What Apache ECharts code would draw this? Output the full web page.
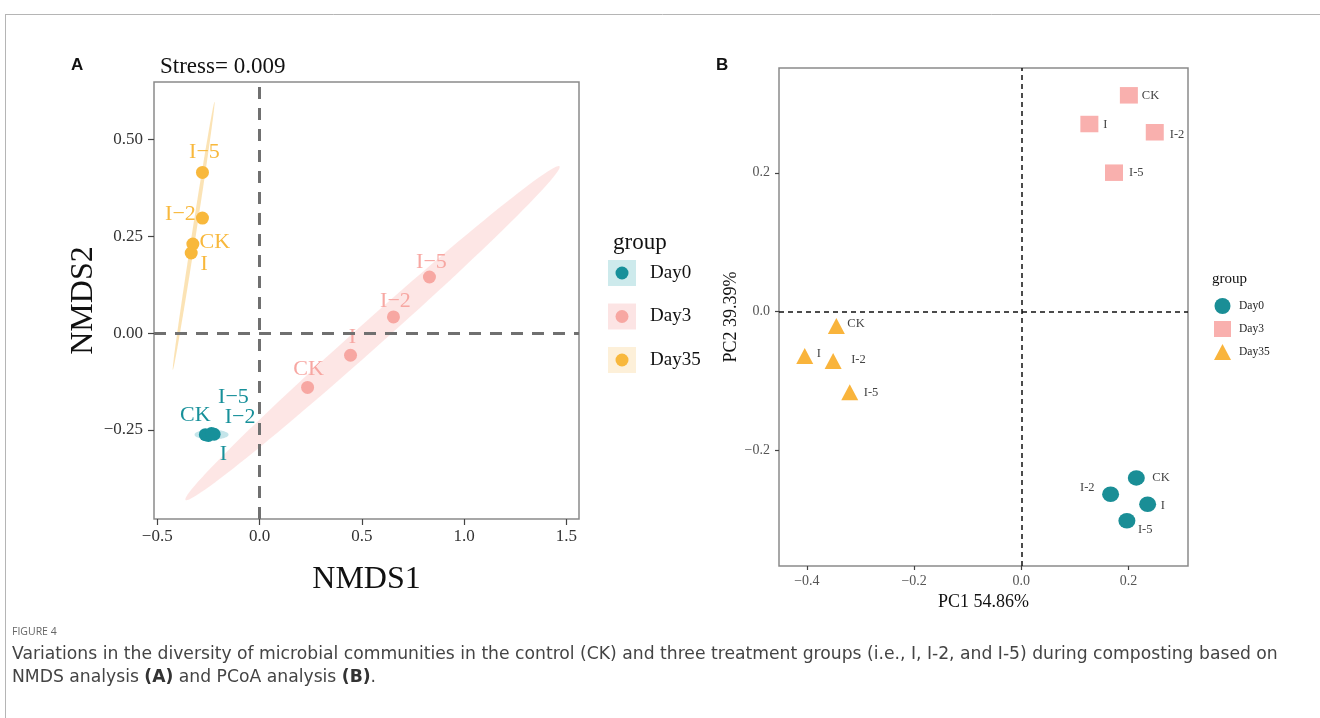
<!DOCTYPE html>
<html>
<head>
<meta charset="utf-8">
<style>
html,body{margin:0;padding:0;background:#fff;}
#chart{width:1320px;height:718px;}
</style>
<script src="https://cdn.jsdelivr.net/npm/echarts@6/dist/echarts.min.js"></script>
</head>
<body>
<div id="chart"></div>
<script>
// ---------- DATA ----------
const groups = ['Day0', 'Day3', 'Day35'];
const sampleLabels = ['CK', 'I', 'I-2', 'I-5'];

// Panel A: NMDS scores (order CK, I, I-2, I-5)
const nmds1Day0  = [-0.265, -0.250, -0.222, -0.235];
const nmds2Day0  = [-0.262, -0.264, -0.261, -0.259];
const nmds1Day3  = [0.235, 0.445, 0.655, 0.831];
const nmds2Day3  = [-0.140, -0.057, 0.042, 0.145];
const nmds1Day35 = [-0.326, -0.334, -0.279, -0.279];
const nmds2Day35 = [0.230, 0.207, 0.297, 0.415];

// Panel A: group ellipses [centerX, centerY, majorDX, majorDY, minorDX, minorDY]
const ellipseDay0  = [-0.2346, -0.262, 0.083, 0.0, 0.0, 0.0129];
const ellipseDay3  = [0.5526, 0.0, 0.9145, 0.4307, 0.0423, -0.0250];
const ellipseDay35 = [-0.322, 0.251, 0.102, 0.346, 0.0097, -0.0008];

const stressValue = '0.009';

// Panel B: PCoA scores (order CK, I, I-2, I-5)
const pc1Day0  = [0.2146, 0.2357, 0.1666, 0.1970];
const pc2Day0  = [-0.2400, -0.2780, -0.2637, -0.3017];
const pc1Day3  = [0.2007, 0.1270, 0.2490, 0.1730];
const pc2Day3  = [0.3118, 0.2704, 0.2585, 0.2002];
const pc1Day35 = [-0.345, -0.404, -0.351, -0.320];
const pc2Day35 = [-0.0209, -0.0642, -0.0714, -0.1165];
const pc1Percent = '54.86%';
const pc2Percent = '39.39%';

// Tick values
const nmds1Ticks = [-0.5, 0.0, 0.5, 1.0, 1.5];
const nmds2Ticks = [-0.25, 0.0, 0.25, 0.50];
const pc1Ticks = [-0.4, -0.2, 0.0, 0.2];
const pc2Ticks = [-0.2, 0.0, 0.2];
const refLineValue = 0;

// ---------- STYLE ----------
const SERIF = "'Liberation Serif', 'DejaVu Serif', serif";
const colA = {Day0: '#17909a', Day3: '#f7a7a2', Day35: '#f8b83c'};
const ellA = {Day0: 'rgba(60,170,185,0.30)', Day3: 'rgba(248,160,155,0.26)', Day35: 'rgba(245,185,70,0.40)'};
const keyBgA = {Day0: '#cdeaec', Day3: '#fce4e4', Day35: '#fdf0d9'};
const colB = {Day0: '#1a8e96', Day3: '#f9b0ae', Day35: '#f9b43c'};
const symB = {Day0: 'circle', Day3: 'rect', Day35: 'triangle'};
const sizeB = {Day0: [17, 15.5], Day3: [18, 16.5], Day35: [17, 16]};

// label offsets (pixels, relative to point centre)
const offA = {
  Day0:  [[-10, -19], [15, 19], [26, -17], [22, -36]],
  Day3:  [[1, -18], [2, -18], [2, -16], [2, -15]],
  Day35: [[22, -2], [13, 11], [-22, -4], [2, -20]]
};
const offB = {
  Day0:  [[16, 0, 'left'], [13, 1, 'left'], [-16, -7, 'right'], [11, 9, 'left']],
  Day3:  [[13, 0, 'left'], [14, 1, 'left'], [15, 2, 'left'], [15, 0, 'left']],
  Day35: [[11, -2, 'left'], [12, -2, 'left'], [18, -1, 'left'], [14, 0, 'left']]
};

const nmdsX = {Day0: nmds1Day0, Day3: nmds1Day3, Day35: nmds1Day35};
const nmdsY = {Day0: nmds2Day0, Day3: nmds2Day3, Day35: nmds2Day35};
const pcX = {Day0: pc1Day0, Day3: pc1Day3, Day35: pc1Day35};
const pcY = {Day0: pc2Day0, Day3: pc2Day3, Day35: pc2Day35};
const ellipses = {Day0: ellipseDay0, Day3: ellipseDay3, Day35: ellipseDay35};

const minus = v => String(v).replace('-', '\u2212');
const fmt1 = v => minus(Number(v).toFixed(1));
const fmt2 = v => minus(Number(v).toFixed(2));

function axisCommon(ticks, fmt, fontSize, color, tickLen, margin) {
  return {
    axisLine: {show: false, onZero: false},
    splitLine: {show: false},
    axisTick: {show: true, inside: false, length: tickLen, lineStyle: {color: '#444', width: 1.2}, customValues: ticks},
    axisLabel: {show: true, customValues: ticks, formatter: fmt, fontFamily: SERIF, fontSize: fontSize, color: color, margin: margin},
  };
}

const series = [];

// Ellipses (panel A)
series.push({
  type: 'custom', name: 'ellipses', xAxisIndex: 0, yAxisIndex: 0, z: 1, silent: true, clip: true,
  data: groups.map(g => ({value: ellipses[g], itemStyle: {color: ellA[g]}})),
  renderItem: function (params, api) {
    const cx = api.value(0), cy = api.value(1), ax = api.value(2), ay = api.value(3), bx = api.value(4), by = api.value(5);
    const pts = [];
    const n = 120;
    for (let k = 0; k < n; k++) {
      const t = 2 * Math.PI * k / n;
      pts.push(api.coord([cx + Math.cos(t) * ax + Math.sin(t) * bx, cy + Math.cos(t) * ay + Math.sin(t) * by]));
    }
    return {type: 'polygon', shape: {points: pts}, style: {fill: api.visual('color')}};
  }
});

// Reference lines A
series.push({
  type: 'scatter', name: 'refA', xAxisIndex: 0, yAxisIndex: 0, data: [], z: 2, silent: true,
  markLine: {silent: true, symbol: 'none', label: {show: false}, animation: false,
    lineStyle: {color: '#707070', width: 3, type: [12, 9]},
    data: [{xAxis: refLineValue}, {yAxis: refLineValue}]}
});

// Points A
groups.forEach(g => {
  series.push({
    type: 'scatter', name: g, xAxisIndex: 0, yAxisIndex: 0, z: 3,
    symbol: 'circle', symbolSize: 13,
    itemStyle: {color: colA[g], opacity: 1},
    data: sampleLabels.map((lab, i) => ({
      name: lab, value: [nmdsX[g][i], nmdsY[g][i]],
      label: {show: true, position: 'inside', align: 'center', verticalAlign: 'middle',
        offset: offA[g][i], formatter: lab.replace('-', '\u2212'),
        fontFamily: SERIF, fontSize: 22, color: colA[g]}
    }))
  });
});

// Reference lines B
series.push({
  type: 'scatter', name: 'refB', xAxisIndex: 1, yAxisIndex: 1, data: [], z: 2, silent: true,
  markLine: {silent: true, symbol: 'none', label: {show: false}, animation: false,
    lineStyle: {color: '#111', width: 1.5, type: [5, 4]},
    data: [{xAxis: refLineValue}, {yAxis: refLineValue}]}
});

// Points B
groups.forEach(g => {
  series.push({
    type: 'scatter', name: g, xAxisIndex: 1, yAxisIndex: 1, z: 3,
    symbol: symB[g], symbolSize: sizeB[g],
    itemStyle: {color: colB[g], opacity: 1},
    data: sampleLabels.map((lab, i) => ({
      name: lab, value: [pcX[g][i], pcY[g][i]],
      label: {show: true, position: 'inside', align: offB[g][i][2], verticalAlign: 'middle',
        offset: [offB[g][i][0], offB[g][i][1]], formatter: lab,
        fontFamily: SERIF, fontSize: 12.5, color: '#444'}
    }))
  });
});

// Legend A graphics
const legendA = [{type: 'text', x: 613, y: 243, style: {text: 'group', font: "23px " + SERIF, fill: '#111', textVerticalAlign: 'middle'}}];
groups.forEach((g, i) => {
  const cy = 273 + i * 43.5;
  legendA.push({type: 'rect', shape: {x: 608, y: cy - 13, width: 28, height: 26}, style: {fill: keyBgA[g]}});
  legendA.push({type: 'circle', shape: {cx: 622, cy: cy, r: 6.5}, style: {fill: colA[g]}});
  legendA.push({type: 'text', x: 650, y: cy, style: {text: g, font: "19px " + SERIF, fill: '#111', textVerticalAlign: 'middle'}});
});

const CAP_FONT = "17.2px 'DejaVu Sans', sans-serif";

const option = {
  animation: false,
  backgroundColor: '#fff',
  grid: [
    {left: 154, top: 82, width: 425, height: 437, show: true, borderColor: '#8a8a8a', borderWidth: 1.5, backgroundColor: 'transparent'},
    {left: 779, top: 68, width: 409, height: 498, show: true, borderColor: '#8a8a8a', borderWidth: 1.5, backgroundColor: 'transparent'}
  ],
  xAxis: [
    Object.assign({type: 'value', gridIndex: 0, min: -0.516, max: 1.5623,
      name: 'NMDS1', nameLocation: 'middle', nameGap: 45,
      nameTextStyle: {fontFamily: SERIF, fontSize: 32, color: '#111'}},
      axisCommon(nmds1Ticks, fmt1, 17, '#333', 6, 9)),
    Object.assign({type: 'value', gridIndex: 1, min: -0.452, max: 0.311,
      name: 'PC1 ' + pc1Percent, nameLocation: 'middle', nameGap: 27,
      nameTextStyle: {fontFamily: SERIF, fontSize: 18, color: '#111'}},
      axisCommon(pc1Ticks, fmt1, 14, '#555', 4, 8))
  ],
  yAxis: [
    Object.assign({type: 'value', gridIndex: 0, min: -0.4798, max: 0.6484,
      name: 'NMDS2', nameLocation: 'middle', nameGap: 36, nameRotate: 90,
      nameTextStyle: {fontFamily: SERIF, fontSize: 32, color: '#111'}},
      axisCommon(nmds2Ticks, fmt2, 17, '#333', 6, 11)),
    Object.assign({type: 'value', gridIndex: 1, min: -0.3671, max: 0.3512,
      name: 'PC2 ' + pc2Percent, nameLocation: 'middle', nameGap: 36, nameRotate: 90,
      nameTextStyle: {fontFamily: SERIF, fontSize: 18, color: '#111'}},
      axisCommon(pc2Ticks, fmt1, 14, '#555', 4, 9))
  ],
  legend: {
    left: 1209, top: 293, orient: 'vertical', itemWidth: 17, itemHeight: 16, itemGap: 7,
    selectedMode: false,
    textStyle: {fontFamily: SERIF, fontSize: 11.5, color: '#222', padding: [0, 0, 0, 3]},
    data: groups.map(g => ({name: g, icon: symB[g], itemStyle: {color: colB[g]}}))
  },
  series: series,
  graphic: [
    // figure frame
    {type: 'line', shape: {x1: 5, y1: 14.5, x2: 1320, y2: 14.5}, style: {stroke: '#b5b5b5', lineWidth: 1}},
    {type: 'line', shape: {x1: 5.5, y1: 14, x2: 5.5, y2: 718}, style: {stroke: '#b5b5b5', lineWidth: 1}},
    // panel letters
    {type: 'text', x: 71, y: 65, style: {text: 'A', font: "bold 17px 'Liberation Sans', Arial, sans-serif", fill: '#111', textVerticalAlign: 'middle'}},
    {type: 'text', x: 716, y: 65, style: {text: 'B', font: "bold 17px 'Liberation Sans', Arial, sans-serif", fill: '#111', textVerticalAlign: 'middle'}},
    {type: 'text', x: 160, y: 67, style: {text: 'Stress= ' + stressValue, font: "23px " + SERIF, fill: '#111', textVerticalAlign: 'middle'}},
    // legend B title
    {type: 'text', x: 1212, y: 279, style: {text: 'group', font: "15px " + SERIF, fill: '#111', textVerticalAlign: 'middle'}},
    // caption
    {type: 'text', x: 12, y: 632, style: {text: 'FIGURE 4', font: "10.5px 'Open Sans', sans-serif", fill: '#666', textVerticalAlign: 'middle'}},
    {type: 'text', x: 12, y: 655, style: {
      text: 'Variations in the diversity of microbial communities in the control (CK) and three treatment groups (i.e., I, I-2, and I-5) during composting based on',
      font: CAP_FONT, fill: '#444', textVerticalAlign: 'middle'}},
    {type: 'text', x: 12, y: 678, style: {
      text: 'NMDS analysis {b|(A)} and PCoA analysis {b|(B)}.',
      font: CAP_FONT, fill: '#444', textVerticalAlign: 'middle',
      rich: {b: {fontWeight: 'bold', fontFamily: 'DejaVu Sans', fontSize: 17.2, fill: '#333'}}}}
  ].concat(legendA)
};

const chart = echarts.init(document.getElementById('chart'), null, {renderer: 'canvas'});
chart.setOption(option);
</script>
</body>
</html>
